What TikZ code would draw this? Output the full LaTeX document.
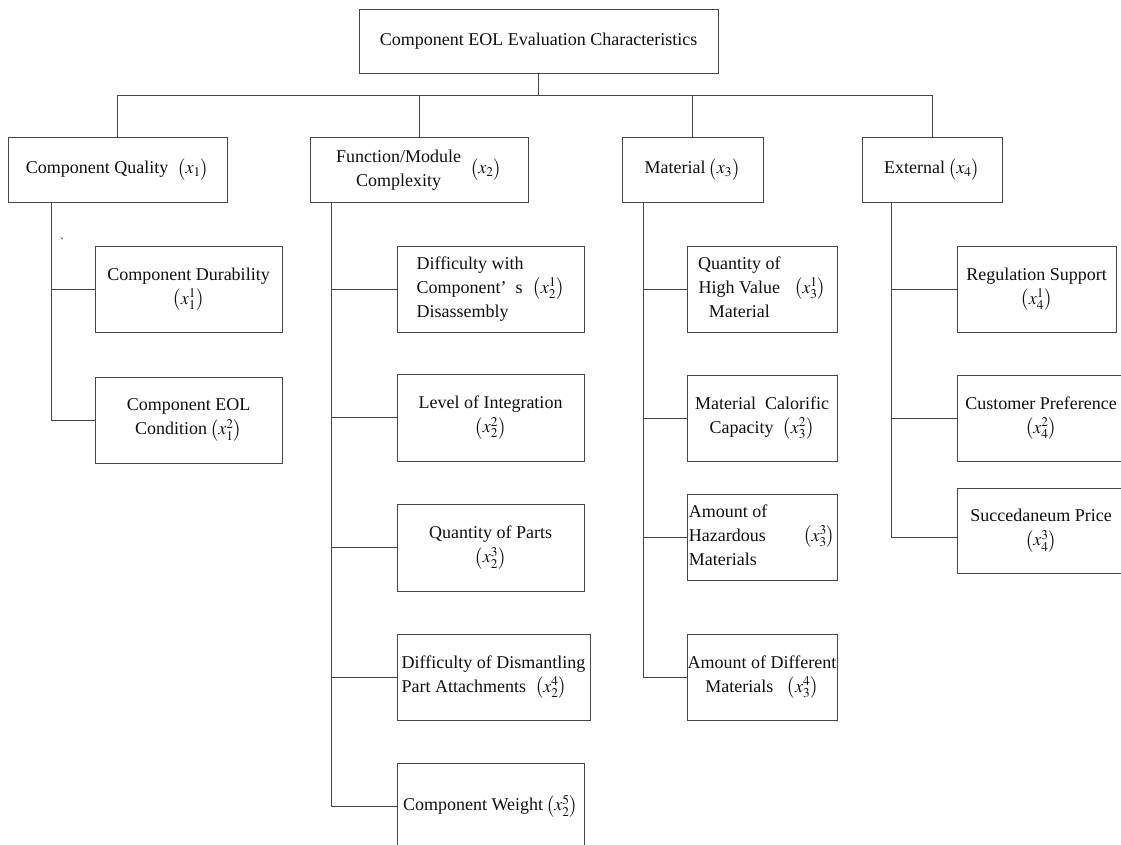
\documentclass[tikz,border=0pt]{standalone}
\usepackage{mathptmx}
\usepackage{fontspec}
\setmainfont{Liberation Serif}
\definecolor{lc}{RGB}{70,70,70}
\definecolor{tc}{RGB}{15,15,15}
\tikzset{
  box/.style={draw=lc, line width=0.9pt, inner sep=0pt, align=center, text=tc,
    font=\fontsize{18}{24}\selectfont},
  conn/.style={draw=lc, line width=0.9pt}
}
\newcommand{\lt}[1]{\begin{tabular}[c]{@{}l@{}}#1\end{tabular}}
\newcommand{\ct}[1]{\begin{tabular}[c]{@{}c@{}}#1\end{tabular}}
\newcommand{\px}[1]{$\bigl(#1\bigr)$}
\begin{document}
\begin{tikzpicture}[x=1pt,y=-1pt]
\useasboundingbox (0,0) rectangle (1121,845);
\clip (0,0) rectangle (1121,845);
% top
\node[box, minimum width=359pt, minimum height=64pt] (top) at (538.5,41) {Component EOL Evaluation Characteristics};
% level 1
\node[box, minimum width=219pt, minimum height=65pt] (q) at (117.5,169.5) {Component Quality\ \ \px{x_1}};
\node[box, minimum width=218pt, minimum height=65pt] (f) at (419,169.5) {\ct{Function/Module\\Complexity}\ \ \px{x_2}};
\node[box, minimum width=141pt, minimum height=65pt] (m) at (692.5,169.5) {Material\,\px{x_3}};
\node[box, minimum width=140pt, minimum height=65pt] (e) at (932,169.5) {External\,\px{x_4}};
\coordinate (bus) at (538.5,95);
\draw[conn] (top.south) -- (bus);
\draw[conn] (q.north) -- (q.north |- bus) -- (e.north |- bus) -- (e.north);
\draw[conn] (f.north) -- (f.north |- bus);
\draw[conn] (m.north) -- (m.north |- bus);
% column 1
\node[box, minimum width=187pt, minimum height=86pt] (q1) at (188.5,289) {Component Durability\\\px{x_1^1}};
\node[box, minimum width=187pt, minimum height=86pt] (q2) at (188.5,420) {Component EOL\\Condition\,\px{x_1^2}};
\coordinate (t1) at ([xshift=44pt]q.south west);
\draw[conn] (t1) |- (q2.west);
\draw[conn] (q1.west) -- (q1.west -| t1);
\node[text=tc, font=\fontsize{12}{12}\selectfont, inner sep=0pt] (tick) at (62,242) {\textasciigrave};
% column 2
\node[box, minimum width=187pt, minimum height=86pt] (f1) at (490.5,289) {\lt{Difficulty with\\Component’\ \ s\\Disassembly}\ \ \px{x_2^1}};
\node[box, minimum width=187pt, minimum height=87pt] (f2) at (490.5,417.5) {Level of Integration\\\px{x_2^2}};
\node[box, minimum width=187pt, minimum height=87pt] (f3) at (490.5,547.5) {Quantity of Parts\\\px{x_2^3}};
\node[box, minimum width=193pt, minimum height=86pt, align=left] (f4) at (493.5,677) {Difficulty of Dismantling\\Part Attachments\ \ \px{x_2^4}};
\node[box, minimum width=187pt, minimum height=86pt] (f5) at (490.5,806) {Component Weight\,\px{x_2^5}};
\coordinate (t2) at ([xshift=22pt]f.south west);
\draw[conn] (t2) |- (f5.west);
\foreach \n in {f1,f2,f3,f4} \draw[conn] (\n.west) -- (\n.west -| t2);
% column 3
\node[box, minimum width=150pt, minimum height=86pt] (m1) at (762,289) {\ct{Quantity of\\High Value\\Material}\ \ \ \px{x_3^1}};
\node[box, minimum width=150pt, minimum height=86pt] (m2) at (762,418) {Material\ \ Calorific\\Capacity\ \ \px{x_3^2}};
\node[box, minimum width=150pt, minimum height=86pt] (m3) at (762,537) {\lt{Amount of\\Hazardous\\Materials}\qquad\px{x_3^3}};
\node[box, minimum width=150pt, minimum height=86pt] (m4) at (762,677) {Amount of Different\\Materials\ \ \ \px{x_3^4}};
\coordinate (t3) at ([xshift=22pt]m.south west);
\draw[conn] (t3) |- (m4.west);
\foreach \n in {m1,m2,m3} \draw[conn] (\n.west) -- (\n.west -| t3);
% column 4
\node[box, minimum width=159pt, minimum height=86pt] (e1) at (1036.5,289) {Regulation Support\\\px{x_4^1}};
\node[box, minimum width=168pt, minimum height=86pt] (e2) at (1041,418) {Customer Preference\\\px{x_4^2}};
\node[box, minimum width=168pt, minimum height=85pt] (e3) at (1041,530.5) {Succedaneum Price\\\px{x_4^3}};
\coordinate (t4) at ([xshift=30pt]e.south west);
\coordinate (e3c) at ([yshift=-6.5pt]e3.west);
\draw[conn] (t4) |- (e3c);
\foreach \n in {e1,e2} \draw[conn] (\n.west) -- (\n.west -| t4);
\end{tikzpicture}
\end{document}
